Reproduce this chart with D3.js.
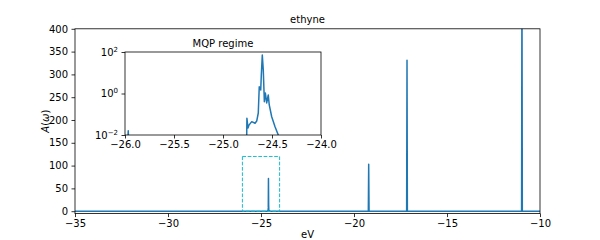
<!DOCTYPE html>
<html><head><meta charset="utf-8">
<script src="https://cdn.jsdelivr.net/npm/d3@7"></script>
<style>
body{margin:0;background:#fff;}
text{font-family:"DejaVu Sans",sans-serif;font-size:10px;fill:#000;}
</style></head>
<body><svg id="c" width="600" height="240"></svg>
<script>
// Spectral function A(omega) vs energy (eV)
const energy = [-35, -26.0, -25.975, -25.967, -25.96, -24.77,
  -24.758, -24.756, -24.745, -24.735, -24.707, -24.673, -24.656, -24.640, -24.630,
  -24.615, -24.609, -24.599, -24.589, -24.578, -24.568, -24.554, -24.538, -24.528,
  -24.503, -24.469, -24.436, -24.40,
  -19.23, -19.21, -19.19, -17.17, -17.15, -17.13, -10.99, -10.97, -10.95, -10];
const spectrum = [0.002, 0.002, 0.002, 0.016, 0.002, 0.002,
  0.01, 0.064, 0.022, 0.030, 0.044, 0.037, 0.047, 0.115, 2.13,
  1.48, 7.8, 71.7, 13.6, 0.40, 1.06, 0.35, 0.85, 0.28,
  0.076, 0.025, 0.01, 0.002,
  0.002, 103, 0.002, 0.002, 331, 0.002, 0.002, 520, 0.002, 0.002];
const xTicks = [-35, -30, -25, -20, -15, -10];
const yTicks = [0, 50, 100, 150, 200, 250, 300, 350, 400];
const insetXTicks = [-26.0, -25.5, -25.0, -24.5, -24.0];
const insetYTicks = [0.01, 1, 100];
const insetYExp = ["−2", "0", "2"];
const zoomBox = {x0: -26, x1: -24, y0: 0, y1: 120};
const data = energy.map((e, i) => ({e, a: spectrum[i]}));

const svg = d3.select("#c");
const blue = "#1f77b4";
const fmtMinus = s => s.replace("-", "−");

// main axes
const L = 75, R = 540, T = 28.8, B = 213.6;
const x = d3.scaleLinear().domain([-35, -10]).range([L, R]);
const y = d3.scaleLinear().domain([-5.3, 400]).range([B, T]);

svg.append("clipPath").attr("id", "mclip").append("rect")
  .attr("x", L).attr("y", T).attr("width", R - L).attr("height", B - T);

const line = d3.line().x(d => x(d.e)).y(d => y(d.a));
svg.append("path").datum(data).attr("d", line).attr("clip-path", "url(#mclip)")
  .attr("fill", "none").attr("stroke", blue).attr("stroke-width", 1.5).attr("stroke-linejoin", "round");

// dashed zoom box
svg.append("rect")
  .attr("x", x(zoomBox.x0)).attr("y", y(zoomBox.y1))
  .attr("width", x(zoomBox.x1) - x(zoomBox.x0)).attr("height", y(zoomBox.y0) - y(zoomBox.y1))
  .attr("fill", "none").attr("stroke", "#17becf").attr("stroke-width", 1).attr("stroke-dasharray", "3.7,1.6");

svg.append("rect").attr("x", L).attr("y", T).attr("width", R - L).attr("height", B - T)
  .attr("fill", "none").attr("stroke", "#000").attr("stroke-width", 0.8);

const xAx = svg.append("g").attr("transform", `translate(0,${B})`)
  .call(d3.axisBottom(x).tickValues(xTicks).tickSize(3.5).tickPadding(2.5).tickFormat(d => fmtMinus(String(d))));
const yAx = svg.append("g").attr("transform", `translate(${L},0)`)
  .call(d3.axisLeft(y).tickValues(yTicks).tickSize(3.5).tickPadding(3.5).tickFormat(d => String(d)));
[xAx, yAx].forEach(g => {
  g.select(".domain").remove();
  g.selectAll("line").attr("stroke", "#000").attr("stroke-width", 0.8);
  g.selectAll("text").attr("font-size", 10).attr("font-family", "DejaVu Sans").attr("fill", "#000");
});

svg.append("text").attr("x", (L + R) / 2).attr("y", 23).attr("text-anchor", "middle").text("ethyne");
svg.append("text").attr("x", (L + R) / 2).attr("y", 238).attr("text-anchor", "middle").text("eV");
const yl = svg.append("text").attr("transform", `translate(49,${(T + B) / 2}) rotate(-90)`).attr("text-anchor", "middle");
yl.append("tspan").attr("font-style", "italic").text("A");
yl.append("tspan").text("(");
yl.append("tspan").attr("font-style", "italic").text("ω");
yl.append("tspan").text(")");

// inset axes
const iL = 125, iR = 321, iT = 52, iB = 135;
const xi = d3.scaleLinear().domain([-26, -24]).range([iL, iR]);
const yi = d3.scaleLog().domain([0.01, 100]).range([iB, iT]);
svg.append("rect").attr("x", iL).attr("y", iT).attr("width", iR - iL).attr("height", iB - iT).attr("fill", "#fff");
svg.append("clipPath").attr("id", "iclip").append("rect")
  .attr("x", iL).attr("y", iT).attr("width", iR - iL).attr("height", iB - iT);
const iline = d3.line().x(d => xi(d.e)).y(d => yi(Math.max(d.a, 1e-4)));
svg.append("path").datum(data.filter(d => d.e >= -27 && d.e <= -23)).attr("d", iline)
  .attr("clip-path", "url(#iclip)")
  .attr("fill", "none").attr("stroke", blue).attr("stroke-width", 1.5).attr("stroke-linejoin", "round");
svg.append("rect").attr("x", iL).attr("y", iT).attr("width", iR - iL).attr("height", iB - iT)
  .attr("fill", "none").attr("stroke", "#000").attr("stroke-width", 0.8);

const ixAx = svg.append("g").attr("transform", `translate(0,${iB})`)
  .call(d3.axisBottom(xi).tickValues(insetXTicks).tickSize(3.5).tickPadding(2.5).tickFormat(d => fmtMinus(d.toFixed(1))));
const iyAx = svg.append("g").attr("transform", `translate(${iL},0)`)
  .call(d3.axisLeft(yi).tickValues(insetYTicks).tickSize(3.5).tickPadding(3.5).tickFormat(() => ""));
[ixAx, iyAx].forEach(g => {
  g.select(".domain").remove();
  g.selectAll("line").attr("stroke", "#000").attr("stroke-width", 0.8);
  g.selectAll("text").attr("font-size", 10).attr("font-family", "DejaVu Sans").attr("fill", "#000");
});
iyAx.selectAll(".tick text").each(function(d, i) {
  const t = d3.select(this);
  t.text(null);
  t.append("tspan").text("10");
  t.append("tspan").attr("font-size", 7).attr("dy", "-0.55em").text(insetYExp[i]);
});
svg.append("text").attr("x", (iL + iR) / 2).attr("y", 47).attr("text-anchor", "middle").text("MQP regime");
</script></body></html>
